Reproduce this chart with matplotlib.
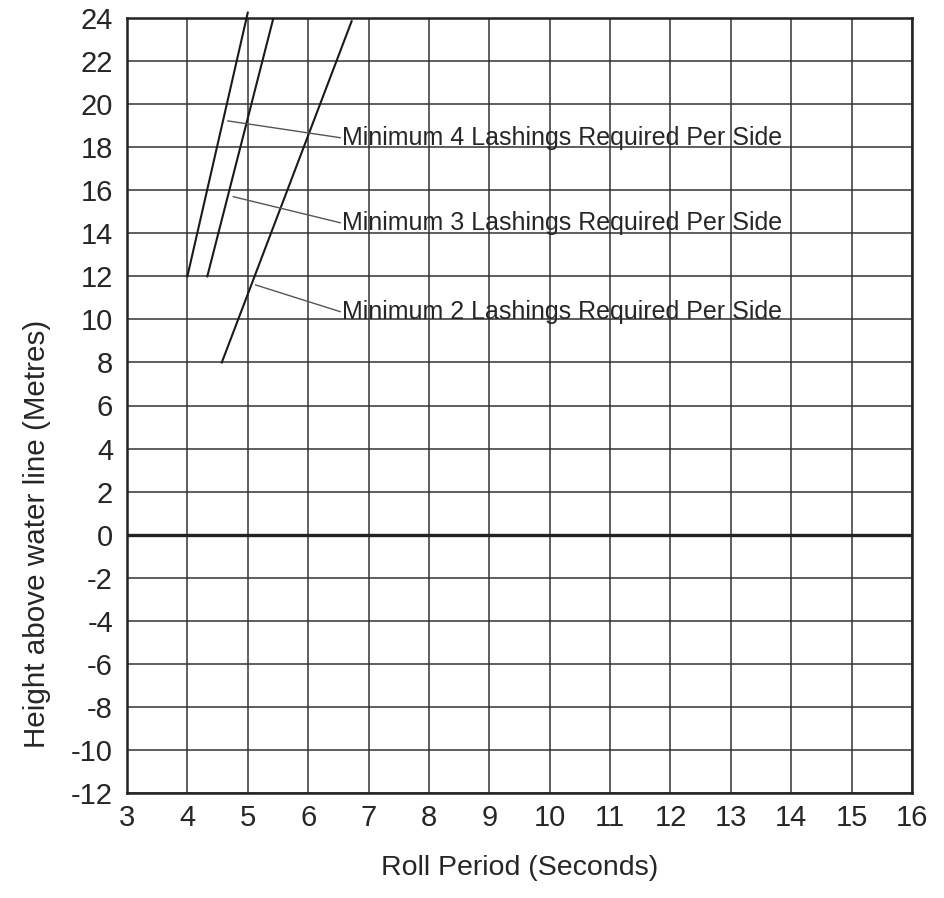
import matplotlib
matplotlib.use("Agg")
import matplotlib.pyplot as plt
import numpy as np

plt.rcParams['font.family'] = ['Liberation Sans', 'DejaVu Sans']
plt.rcParams['axes.unicode_minus'] = False

# Data
xticks = list(range(3, 17))
yticks = list(range(-12, 25, 2))

# lashing boundary lines: (x_start, y_start) -> (x_end, y_end)
line4_x = [4.0, 5.0]
line4_y = [12.0, 24.25]
line3_x = [4.33, 5.42]
line3_y = [12.0, 23.95]
line2_x = [4.57, 6.72]
line2_y = [8.0, 23.85]

labels = ["Minimum 4 Lashings Required Per Side",
          "Minimum 3 Lashings Required Per Side",
          "Minimum 2 Lashings Required Per Side"]
leader_start_x = [4.67, 4.76, 5.13]
leader_start_y = [19.22, 15.70, 11.60]
leader_end_x = [6.53, 6.53, 6.53]
leader_end_y = [18.44, 14.49, 10.36]

fig = plt.figure(figsize=(9.45, 8.98), dpi=100)
ax = fig.add_axes([127/945, 1-793/898, 785/945, 775/898])

ax.set_xlim(3, 16)
ax.set_ylim(-12, 24)
ax.set_xticks(xticks)
ax.set_yticks(yticks)
ax.tick_params(length=0, labelsize=21, colors='#262626')
ax.tick_params(axis='y', pad=10)
ax.tick_params(axis='x', pad=8)

ax.grid(True, color='#333333', linewidth=1.1)
ax.set_axisbelow(True)
for s in ax.spines.values():
    s.set_linewidth(1.8)
    s.set_color('#222222')

ax.axhline(0, color='#222222', linewidth=2.4, zorder=2)

for xs, ys in [(line4_x, line4_y), (line3_x, line3_y), (line2_x, line2_y)]:
    ax.plot(xs, ys, color='#1a1a1a', linewidth=1.5, clip_on=False, zorder=3)

for lab, sx, sy, ex, ey in zip(labels, leader_start_x, leader_start_y,
                               leader_end_x, leader_end_y):
    ax.plot([sx, ex], [sy, ey], color='#555555', linewidth=1.0, zorder=3)
    ax.text(ex + 0.03, ey, lab, fontsize=18, color='#262626',
            ha='left', va='center', zorder=4)

ax.set_xlabel("Roll Period (Seconds)", fontsize=20.5, color='#262626', va='center')
ax.xaxis.set_label_coords(0.5, -0.097)
ax.set_ylabel("Height above water line (Metres)", fontsize=21.3, color='#262626',
              va='center', ha='center')
ax.yaxis.set_label_coords(-0.115, 0.334)

fig.savefig("out.png", dpi=100)
